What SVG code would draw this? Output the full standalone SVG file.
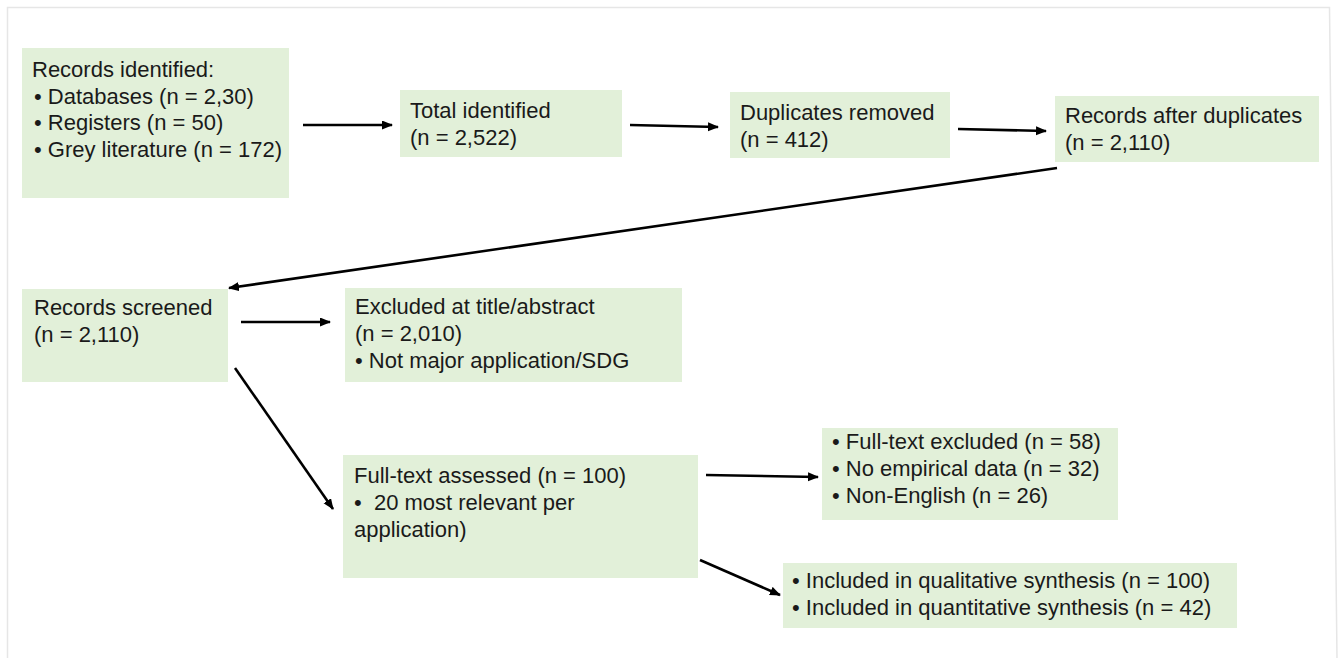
<svg xmlns="http://www.w3.org/2000/svg" width="1338" height="658" viewBox="0 0 1338 658">
<defs>
<style>
.box{fill:#e2f0d9;}
.t{font-family:"Liberation Sans",Arial,sans-serif;font-size:22px;fill:#1a1a1a;white-space:pre;}
.c{stroke:#000;stroke-width:2.6;fill:none;marker-end:url(#ah);}
</style>
<marker id="ah" markerUnits="userSpaceOnUse" markerWidth="12" markerHeight="10" refX="10" refY="4.5" orient="auto">
<path d="M0,0 L11,4.5 L0,9 z" fill="#000"/>
</marker>
</defs>
<rect width="1338" height="658" fill="#fff"/>
<path d="M7.5,658 L7.5,7.5 L1329.5,7.5 L1337,658" fill="none" stroke="#e6e6e6" stroke-width="1.5"/>
<g id="n1"><rect class="box" x="22" y="48" width="267" height="150"/>
<text class="t" x="32" y="77">Records identified:</text>
<text class="t" x="34" y="103.5">• Databases (n = 2,30)</text>
<text class="t" x="34" y="130">• Registers (n = 50)</text>
<text class="t" x="34" y="156.5">• Grey literature (n = 172)</text></g>
<g id="n2"><rect class="box" x="400" y="90" width="222" height="67"/>
<text class="t" x="410" y="118">Total identified</text>
<text class="t" x="410" y="145">(n = 2,522)</text></g>
<g id="n3"><rect class="box" x="730" y="92" width="220" height="66"/>
<text class="t" x="740" y="120">Duplicates removed</text>
<text class="t" x="740" y="147">(n = 412)</text></g>
<g id="n4"><rect class="box" x="1055" y="96" width="264" height="66"/>
<text class="t" x="1065" y="123">Records after duplicates</text>
<text class="t" x="1065" y="150">(n = 2,110)</text></g>
<g id="n5"><rect class="box" x="22" y="289" width="206" height="93"/>
<text class="t" x="34" y="315">Records screened</text>
<text class="t" x="34" y="342">(n = 2,110)</text></g>
<g id="n6"><rect class="box" x="345" y="288" width="337" height="94"/>
<text class="t" x="355" y="314">Excluded at title/abstract</text>
<text class="t" x="355" y="341">(n = 2,010)</text>
<text class="t" x="355" y="368">• Not major application/SDG</text></g>
<g id="n7"><rect class="box" x="343" y="455" width="355" height="123"/>
<text class="t" x="354" y="483">Full-text assessed (n = 100)</text>
<text class="t" x="354" y="510">•  20 most relevant per</text>
<text class="t" x="354" y="537">application)</text></g>
<g id="n8"><rect class="box" x="822" y="428" width="296" height="92"/>
<text class="t" x="832" y="449">• Full-text excluded (n = 58)</text>
<text class="t" x="832" y="476">• No empirical data (n = 32)</text>
<text class="t" x="832" y="503">• Non-English (n = 26)</text></g>
<g id="n9"><rect class="box" x="783" y="563" width="454" height="65"/>
<text class="t" x="792" y="588">• Included in qualitative synthesis (n = 100)</text>
<text class="t" x="792" y="615">• Included in quantitative synthesis (n = 42)</text></g>
<g id="connectors">
<line class="c" x1="303" y1="125" x2="392" y2="125"/>
<line class="c" x1="630" y1="125" x2="718" y2="127"/>
<line class="c" x1="958" y1="129" x2="1046" y2="131"/>
<line class="c" x1="1057" y1="168" x2="229" y2="288"/>
<line class="c" x1="241" y1="322" x2="330" y2="322"/>
<line class="c" x1="235" y1="368" x2="333" y2="509"/>
<line class="c" x1="706" y1="475" x2="818" y2="477"/>
<line class="c" x1="700" y1="560" x2="780" y2="595"/>
</g>
</svg>
